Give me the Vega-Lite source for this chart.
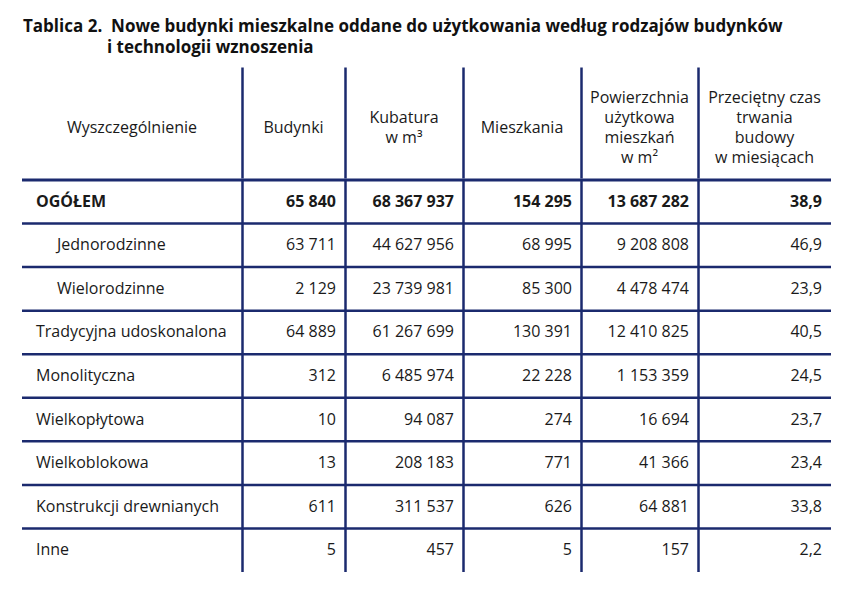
{
  "$schema": "https://vega.github.io/schema/vega-lite/v6.json",
  "background": "white",
  "padding": {"left": 20, "top": 18, "right": 0, "bottom": 0},
  "title": {
    "text": ["Tablica 2.\u00a0\u00a0Nowe budynki mieszkalne oddane do użytkowania według rodzajów budynków", "\u200b\u00a0\u00a0\u00a0\u00a0\u00a0\u00a0\u00a0\u00a0\u00a0\u00a0\u00a0\u00a0\u00a0\u00a0\u00a0\u00a0\u00a0\u00a0\u00a0i technologii wznoszenia"],
    "anchor": "start",
    "frame": "group",
    "dx": 1,
    "font": "Open Sans",
    "fontSize": 17,
    "fontWeight": "bold",
    "color": "#111111",
    "lineHeight": 21,
    "offset": 10
  },
  "datasets": {
    "rows": [
      {"label": "OGÓŁEM", "level": "total", "budynki": 65840, "kubatura": 68367937, "mieszkania": 154295, "pow": 13687282, "czas": 38.9},
      {"label": "Jednorodzinne", "level": "sub", "budynki": 63711, "kubatura": 44627956, "mieszkania": 68995, "pow": 9208808, "czas": 46.9},
      {"label": "Wielorodzinne", "level": "sub", "budynki": 2129, "kubatura": 23739981, "mieszkania": 85300, "pow": 4478474, "czas": 23.9},
      {"label": "Tradycyjna udoskonalona", "level": "main", "budynki": 64889, "kubatura": 61267699, "mieszkania": 130391, "pow": 12410825, "czas": 40.5},
      {"label": "Monolityczna", "level": "main", "budynki": 312, "kubatura": 6485974, "mieszkania": 22228, "pow": 1153359, "czas": 24.5},
      {"label": "Wielkopłytowa", "level": "main", "budynki": 10, "kubatura": 94087, "mieszkania": 274, "pow": 16694, "czas": 23.7},
      {"label": "Wielkoblokowa", "level": "main", "budynki": 13, "kubatura": 208183, "mieszkania": 771, "pow": 41366, "czas": 23.4},
      {"label": "Konstrukcji drewnianych", "level": "main", "budynki": 611, "kubatura": 311537, "mieszkania": 626, "pow": 64881, "czas": 33.8},
      {"label": "Inne", "level": "main", "budynki": 5, "kubatura": 457, "mieszkania": 5, "pow": 157, "czas": 2.2}
    ],
    "cols": [
      {"key": "label", "head": "Wyszczególnienie"},
      {"key": "budynki", "head": "Budynki"},
      {"key": "kubatura", "head": "Kubatura\nw m³"},
      {"key": "mieszkania", "head": "Mieszkania"},
      {"key": "pow", "head": "Powierzchnia\nużytkowa\nmieszkań\nw m²"},
      {"key": "czas", "head": "Przeciętny czas\ntrwania\nbudowy\nw miesiącach"}
    ]
  },
  "config": {
    "view": {"stroke": null},
    "font": "Open Sans",
    "locale": {"number": {"decimal": ",", "thousands": " ", "grouping": [3], "currency": ["", " zł"]}},
    "text": {"font": "Open Sans", "fontSize": 16, "color": "#1a1a1a"}
  },
  "spacing": 0,
  "vconcat": [
    {
      "bounds": "flush",
      "spacing": 0,
      "hconcat": [
        {
          "width": 220, "height": 111,
          "data": {"name": "cols"},
          "transform": [{"filter": "datum.key === 'label'"}],
          "mark": {"type": "text", "lineHeight": 20, "lineBreak": "\n", "dy": {"expr": "5.5 - (length(split(datum.head, '\\n')) - 1) * 10"}},
          "encoding": {
            "y": {"field": "key", "type": "nominal", "scale": {"type": "band", "paddingInner": 0, "paddingOuter": 0}, "axis": null},
            "text": {"field": "head"}
          }
        },
        {
          "width": 103, "height": 111,
          "data": {"name": "cols"},
          "transform": [{"filter": "datum.key === 'budynki'"}],
          "mark": {"type": "text", "lineHeight": 20, "lineBreak": "\n", "dy": {"expr": "5.5 - (length(split(datum.head, '\\n')) - 1) * 10"}},
          "encoding": {
            "y": {"field": "key", "type": "nominal", "scale": {"type": "band", "paddingInner": 0, "paddingOuter": 0}, "axis": {"domain": true, "domainColor": "#1b2a6e", "domainWidth": 2.5, "ticks": false, "labels": false, "title": null, "grid": false}},
            "text": {"field": "head"}
          }
        },
        {
          "width": 118, "height": 111,
          "data": {"name": "cols"},
          "transform": [{"filter": "datum.key === 'kubatura'"}],
          "mark": {"type": "text", "lineHeight": 20, "lineBreak": "\n", "dy": {"expr": "5.5 - (length(split(datum.head, '\\n')) - 1) * 10"}},
          "encoding": {
            "y": {"field": "key", "type": "nominal", "scale": {"type": "band", "paddingInner": 0, "paddingOuter": 0}, "axis": {"domain": true, "domainColor": "#1b2a6e", "domainWidth": 2.5, "ticks": false, "labels": false, "title": null, "grid": false}},
            "text": {"field": "head"}
          }
        },
        {
          "width": 118, "height": 111,
          "data": {"name": "cols"},
          "transform": [{"filter": "datum.key === 'mieszkania'"}],
          "mark": {"type": "text", "lineHeight": 20, "lineBreak": "\n", "dy": {"expr": "5.5 - (length(split(datum.head, '\\n')) - 1) * 10"}},
          "encoding": {
            "y": {"field": "key", "type": "nominal", "scale": {"type": "band", "paddingInner": 0, "paddingOuter": 0}, "axis": {"domain": true, "domainColor": "#1b2a6e", "domainWidth": 2.5, "ticks": false, "labels": false, "title": null, "grid": false}},
            "text": {"field": "head"}
          }
        },
        {
          "width": 117, "height": 111,
          "data": {"name": "cols"},
          "transform": [{"filter": "datum.key === 'pow'"}],
          "mark": {"type": "text", "lineHeight": 20, "lineBreak": "\n", "dy": {"expr": "5.5 - (length(split(datum.head, '\\n')) - 1) * 10"}},
          "encoding": {
            "y": {"field": "key", "type": "nominal", "scale": {"type": "band", "paddingInner": 0, "paddingOuter": 0}, "axis": {"domain": true, "domainColor": "#1b2a6e", "domainWidth": 2.5, "ticks": false, "labels": false, "title": null, "grid": false}},
            "text": {"field": "head"}
          }
        },
        {
          "width": 133, "height": 111,
          "data": {"name": "cols"},
          "transform": [{"filter": "datum.key === 'czas'"}],
          "mark": {"type": "text", "lineHeight": 20, "lineBreak": "\n", "dy": {"expr": "5.5 - (length(split(datum.head, '\\n')) - 1) * 10"}},
          "encoding": {
            "y": {"field": "key", "type": "nominal", "scale": {"type": "band", "paddingInner": 0, "paddingOuter": 0}, "axis": {"domain": true, "domainColor": "#1b2a6e", "domainWidth": 2.5, "ticks": false, "labels": false, "title": null, "grid": false}},
            "text": {"field": "head"}
          }
        }
      ]
    },
    {
      "bounds": "flush",
      "spacing": 0,
      "hconcat": [
        {
          "width": 220, "height": 392,
          "data": {"name": "rows"},
          "layer": [
            {
              "mark": {"type": "rule", "color": "#1b2a6e"},
              "encoding": {
                "y": {"field": "label", "type": "nominal", "sort": null, "bandPosition": 0, "scale": {"type": "band", "paddingInner": 0, "paddingOuter": 0}, "axis": null},
                "strokeWidth": {"condition": {"test": "datum.level === 'total'", "value": 3}, "value": 2.5}
              }
            },
            {
              "mark": {"type": "text", "align": "left", "dx": {"expr": "datum.level === 'sub' ? 35 : 14"}, "fontWeight": {"expr": "datum.level === 'total' ? 'bold' : 'normal'"}},
              "encoding": {
                "x": {"value": 0},
                "y": {"field": "label", "type": "nominal", "sort": null, "scale": {"type": "band", "paddingInner": 0, "paddingOuter": 0}, "axis": null},
                "text": {"field": "label"}
              }
            }
          ]
        },
        {
          "width": 103, "height": 392,
          "data": {"name": "rows"},
          "layer": [
            {
              "mark": {"type": "rule", "color": "#1b2a6e"},
              "encoding": {
                "y": {"field": "label", "type": "nominal", "sort": null, "bandPosition": 0, "scale": {"type": "band", "paddingInner": 0, "paddingOuter": 0}, "axis": {"domain": true, "domainColor": "#1b2a6e", "domainWidth": 2.5, "ticks": false, "labels": false, "title": null, "grid": false}},
                "strokeWidth": {"condition": {"test": "datum.level === 'total'", "value": 3}, "value": 2.5}
              }
            },
            {
              "mark": {"type": "text", "align": "right", "dx": -9, "fontWeight": {"expr": "datum.level === 'total' ? 'bold' : 'normal'"}},
              "encoding": {
                "x": {"value": "width"},
                "y": {"field": "label", "type": "nominal", "sort": null, "scale": {"type": "band", "paddingInner": 0, "paddingOuter": 0}, "axis": {"domain": true, "domainColor": "#1b2a6e", "domainWidth": 2.5, "ticks": false, "labels": false, "title": null, "grid": false}},
                "text": {"field": "budynki", "type": "quantitative", "format": ",d"}
              }
            }
          ]
        },
        {
          "width": 118, "height": 392,
          "data": {"name": "rows"},
          "layer": [
            {
              "mark": {"type": "rule", "color": "#1b2a6e"},
              "encoding": {
                "y": {"field": "label", "type": "nominal", "sort": null, "bandPosition": 0, "scale": {"type": "band", "paddingInner": 0, "paddingOuter": 0}, "axis": {"domain": true, "domainColor": "#1b2a6e", "domainWidth": 2.5, "ticks": false, "labels": false, "title": null, "grid": false}},
                "strokeWidth": {"condition": {"test": "datum.level === 'total'", "value": 3}, "value": 2.5}
              }
            },
            {
              "mark": {"type": "text", "align": "right", "dx": -9, "fontWeight": {"expr": "datum.level === 'total' ? 'bold' : 'normal'"}},
              "encoding": {
                "x": {"value": "width"},
                "y": {"field": "label", "type": "nominal", "sort": null, "scale": {"type": "band", "paddingInner": 0, "paddingOuter": 0}, "axis": {"domain": true, "domainColor": "#1b2a6e", "domainWidth": 2.5, "ticks": false, "labels": false, "title": null, "grid": false}},
                "text": {"field": "kubatura", "type": "quantitative", "format": ",d"}
              }
            }
          ]
        },
        {
          "width": 118, "height": 392,
          "data": {"name": "rows"},
          "layer": [
            {
              "mark": {"type": "rule", "color": "#1b2a6e"},
              "encoding": {
                "y": {"field": "label", "type": "nominal", "sort": null, "bandPosition": 0, "scale": {"type": "band", "paddingInner": 0, "paddingOuter": 0}, "axis": {"domain": true, "domainColor": "#1b2a6e", "domainWidth": 2.5, "ticks": false, "labels": false, "title": null, "grid": false}},
                "strokeWidth": {"condition": {"test": "datum.level === 'total'", "value": 3}, "value": 2.5}
              }
            },
            {
              "mark": {"type": "text", "align": "right", "dx": -9, "fontWeight": {"expr": "datum.level === 'total' ? 'bold' : 'normal'"}},
              "encoding": {
                "x": {"value": "width"},
                "y": {"field": "label", "type": "nominal", "sort": null, "scale": {"type": "band", "paddingInner": 0, "paddingOuter": 0}, "axis": {"domain": true, "domainColor": "#1b2a6e", "domainWidth": 2.5, "ticks": false, "labels": false, "title": null, "grid": false}},
                "text": {"field": "mieszkania", "type": "quantitative", "format": ",d"}
              }
            }
          ]
        },
        {
          "width": 117, "height": 392,
          "data": {"name": "rows"},
          "layer": [
            {
              "mark": {"type": "rule", "color": "#1b2a6e"},
              "encoding": {
                "y": {"field": "label", "type": "nominal", "sort": null, "bandPosition": 0, "scale": {"type": "band", "paddingInner": 0, "paddingOuter": 0}, "axis": {"domain": true, "domainColor": "#1b2a6e", "domainWidth": 2.5, "ticks": false, "labels": false, "title": null, "grid": false}},
                "strokeWidth": {"condition": {"test": "datum.level === 'total'", "value": 3}, "value": 2.5}
              }
            },
            {
              "mark": {"type": "text", "align": "right", "dx": -9, "fontWeight": {"expr": "datum.level === 'total' ? 'bold' : 'normal'"}},
              "encoding": {
                "x": {"value": "width"},
                "y": {"field": "label", "type": "nominal", "sort": null, "scale": {"type": "band", "paddingInner": 0, "paddingOuter": 0}, "axis": {"domain": true, "domainColor": "#1b2a6e", "domainWidth": 2.5, "ticks": false, "labels": false, "title": null, "grid": false}},
                "text": {"field": "pow", "type": "quantitative", "format": ",d"}
              }
            }
          ]
        },
        {
          "width": 133, "height": 392,
          "data": {"name": "rows"},
          "layer": [
            {
              "mark": {"type": "rule", "color": "#1b2a6e"},
              "encoding": {
                "y": {"field": "label", "type": "nominal", "sort": null, "bandPosition": 0, "scale": {"type": "band", "paddingInner": 0, "paddingOuter": 0}, "axis": {"domain": true, "domainColor": "#1b2a6e", "domainWidth": 2.5, "ticks": false, "labels": false, "title": null, "grid": false}},
                "strokeWidth": {"condition": {"test": "datum.level === 'total'", "value": 3}, "value": 2.5}
              }
            },
            {
              "mark": {"type": "text", "align": "right", "dx": -9, "fontWeight": {"expr": "datum.level === 'total' ? 'bold' : 'normal'"}},
              "encoding": {
                "x": {"value": "width"},
                "y": {"field": "label", "type": "nominal", "sort": null, "scale": {"type": "band", "paddingInner": 0, "paddingOuter": 0}, "axis": {"domain": true, "domainColor": "#1b2a6e", "domainWidth": 2.5, "ticks": false, "labels": false, "title": null, "grid": false}},
                "text": {"field": "czas", "type": "quantitative", "format": ".1f"}
              }
            }
          ]
        }
      ]
    }
  ]
}
